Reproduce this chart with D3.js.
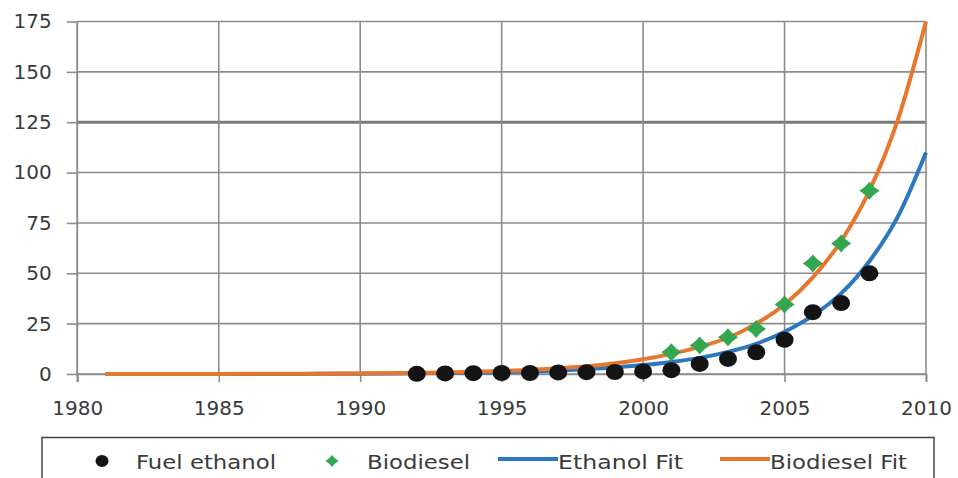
<!DOCTYPE html>
<html>
<head>
<meta charset="utf-8">
<script src="https://cdn.jsdelivr.net/npm/d3@7"></script>
<style>
  body { margin: 0; background: #fff; }
  text { font-family: "DejaVu Sans", Verdana, sans-serif; fill: #3a3a3a; }
</style>
</head>
<body>
<div id="chart"></div>
<script>
// data
var xTicks = [1980, 1985, 1990, 1995, 2000, 2005, 2010]
var yTicks = [0, 25, 50, 75, 100, 125, 150, 175]

var ethanolYears = [1992, 1993, 1994, 1995, 1996, 1997, 1998, 1999, 2000, 2001, 2002, 2003, 2004, 2005, 2006, 2007, 2008]
var ethanolVals  = [0.1, 0.3, 0.4, 0.5, 0.5, 0.8, 0.9, 1.0, 1.3, 1.9, 5.0, 7.5, 10.8, 17, 30.7, 35.2, 50]

var biodieselYears = [2001, 2002, 2003, 2004, 2005, 2006, 2007, 2008]
var biodieselVals  = [10.8, 14.1, 18.2, 22.4, 34.5, 54.8, 64.8, 91]

var fitYears = [1981, 1982, 1983, 1984, 1985, 1986, 1987, 1988, 1989, 1990,
                1991, 1992, 1993, 1994, 1995, 1996, 1997, 1998, 1999, 2000,
                2001, 2002, 2003, 2004, 2005, 2006, 2007, 2008, 2009, 2010]
var ethanolFit = [0.01, 0.01, 0.01, 0.02, 0.02, 0.03, 0.04, 0.06, 0.12, 0.17,
                  0.24, 0.33, 0.45, 0.65, 0.9, 1.2, 1.7, 2.4, 3.3, 4.5,
                  6, 8, 11, 15, 21, 29, 40, 56, 78, 110]
var biodieselFit = [0.02, 0.02, 0.03, 0.05, 0.06, 0.09, 0.12, 0.16, 0.2, 0.3,
                    0.4, 0.6, 0.8, 1.1, 1.5, 2.0, 2.8, 3.8, 5.3, 7.3,
                    10, 13.5, 18, 25, 34.5, 48, 66, 91, 126, 175]

var legendNames = ["Fuel ethanol", "Biodiesel", "Ethanol Fit", "Biodiesel Fit"]

var colBlue = "#2b77c0", colOrange = "#e8772e", colGreen = "#33a650", colDot = "#141414", colGrid = "#8c8c8c"

var W = 958, H = 478
var margin = {top: 21.5, right: 32, bottom: 104, left: 77.3}
var width = W - margin.left - margin.right,
    height = H - margin.top - margin.bottom

var svg = d3.select("#chart").append("svg")
  .attr("width", W).attr("height", H)

var g = svg.append("g")
  .attr("transform", "translate(" + margin.left + "," + margin.top + ")")

var x = d3.scaleLinear().domain([1980, 2010]).range([0, width])
var y = d3.scaleLinear().domain([0, 175]).range([height, 0])

// grid
g.selectAll(".hgrid").data(yTicks).enter().append("line")
  .attr("x1", 0).attr("x2", width)
  .attr("y1", function(d){ return y(d) }).attr("y2", function(d){ return y(d) })
  .attr("stroke", function(d){ return d == 125 ? "#7a7a7a" : colGrid })
  .attr("stroke-width", function(d){ return d == 125 ? 3 : 1.6 })

g.selectAll(".vgrid").data(xTicks).enter().append("line")
  .attr("y1", 0).attr("y2", height)
  .attr("x1", function(d){ return x(d) }).attr("x2", function(d){ return x(d) })
  .attr("stroke", colGrid).attr("stroke-width", 1.6)

// axes
var yAxis = g.append("g")
  .call(d3.axisLeft(y).tickValues(yTicks).tickSize(10.5).tickPadding(15))
var xAxis = g.append("g")
  .attr("transform", "translate(0," + height + ")")
  .call(d3.axisBottom(x).tickValues(xTicks).tickFormat(d3.format("d")).tickSize(8).tickPadding(19))

;[yAxis, xAxis].forEach(function(a){
  a.select(".domain").attr("stroke", colGrid).attr("stroke-width", 1.6)
  a.selectAll(".tick line").attr("stroke", colGrid).attr("stroke-width", 1.6)
  a.selectAll("text").style("font-size", "20px").attr("fill", "#3a3a3a")
})
yAxis.select(".domain").attr("d", "M0,0V" + (height + 8))

// fit lines
var line = d3.line()
  .x(function(d){ return x(d[0]) })
  .y(function(d){ return y(d[1]) })
  .curve(d3.curveMonotoneX)

g.append("path")
  .datum(fitYears.map(function(yr, i){ return [yr, ethanolFit[i]] }))
  .attr("fill", "none").attr("stroke", colBlue).attr("stroke-width", 4)
  .attr("d", line)

g.append("path")
  .datum(fitYears.map(function(yr, i){ return [yr, biodieselFit[i]] }))
  .attr("fill", "none").attr("stroke", colOrange).attr("stroke-width", 4)
  .attr("d", line)

// markers
function diamondPath(w, h){
  var a = w / 2, b = h / 2, k = 0.4
  return "M0," + (-b) +
    "Q" + (a * k) + "," + (-b * k) + " " + a + ",0" +
    "Q" + (a * k) + "," + (b * k) + " 0," + b +
    "Q" + (-a * k) + "," + (b * k) + " " + (-a) + ",0" +
    "Q" + (-a * k) + "," + (-b * k) + " 0," + (-b) + "Z"
}

g.selectAll(".dot").data(ethanolYears).enter().append("ellipse")
  .attr("cx", function(d){ return x(d) })
  .attr("cy", function(d, i){ return y(ethanolVals[i]) })
  .attr("rx", 9).attr("ry", 8)
  .attr("fill", colDot)

g.selectAll(".dia").data(biodieselYears).enter().append("path")
  .attr("transform", function(d, i){ return "translate(" + x(d) + "," + y(biodieselVals[i]) + ")" })
  .attr("d", diamondPath(20, 18))
  .attr("fill", colGreen)

// legend
var lg = svg.append("g")
lg.append("rect")
  .attr("x", 42).attr("y", 437.5).attr("width", 892).attr("height", 60)
  .attr("fill", "none").attr("stroke", "#444").attr("stroke-width", 1.5)

lg.append("ellipse").attr("cx", 102).attr("cy", 461).attr("rx", 6.5).attr("ry", 6)
  .attr("fill", colDot)
lg.append("path").attr("transform", "translate(332,461)")
  .attr("d", diamondPath(13, 12)).attr("fill", colGreen)
lg.append("line").attr("x1", 498).attr("x2", 558).attr("y1", 459).attr("y2", 459)
  .attr("stroke", colBlue).attr("stroke-width", 4)
lg.append("line").attr("x1", 720).attr("x2", 770).attr("y1", 459).attr("y2", 459)
  .attr("stroke", colOrange).attr("stroke-width", 4)

var legX = [136, 367, 558, 770], legW = [140, 103, 125, 137]
lg.selectAll(".lt").data(legendNames).enter().append("text")
  .attr("x", function(d, i){ return legX[i] })
  .attr("y", 469)
  .attr("textLength", function(d, i){ return legW[i] })
  .attr("lengthAdjust", "spacingAndGlyphs")
  .style("font-size", "20px")
  .text(function(d){ return d })
</script>
</body>
</html>
